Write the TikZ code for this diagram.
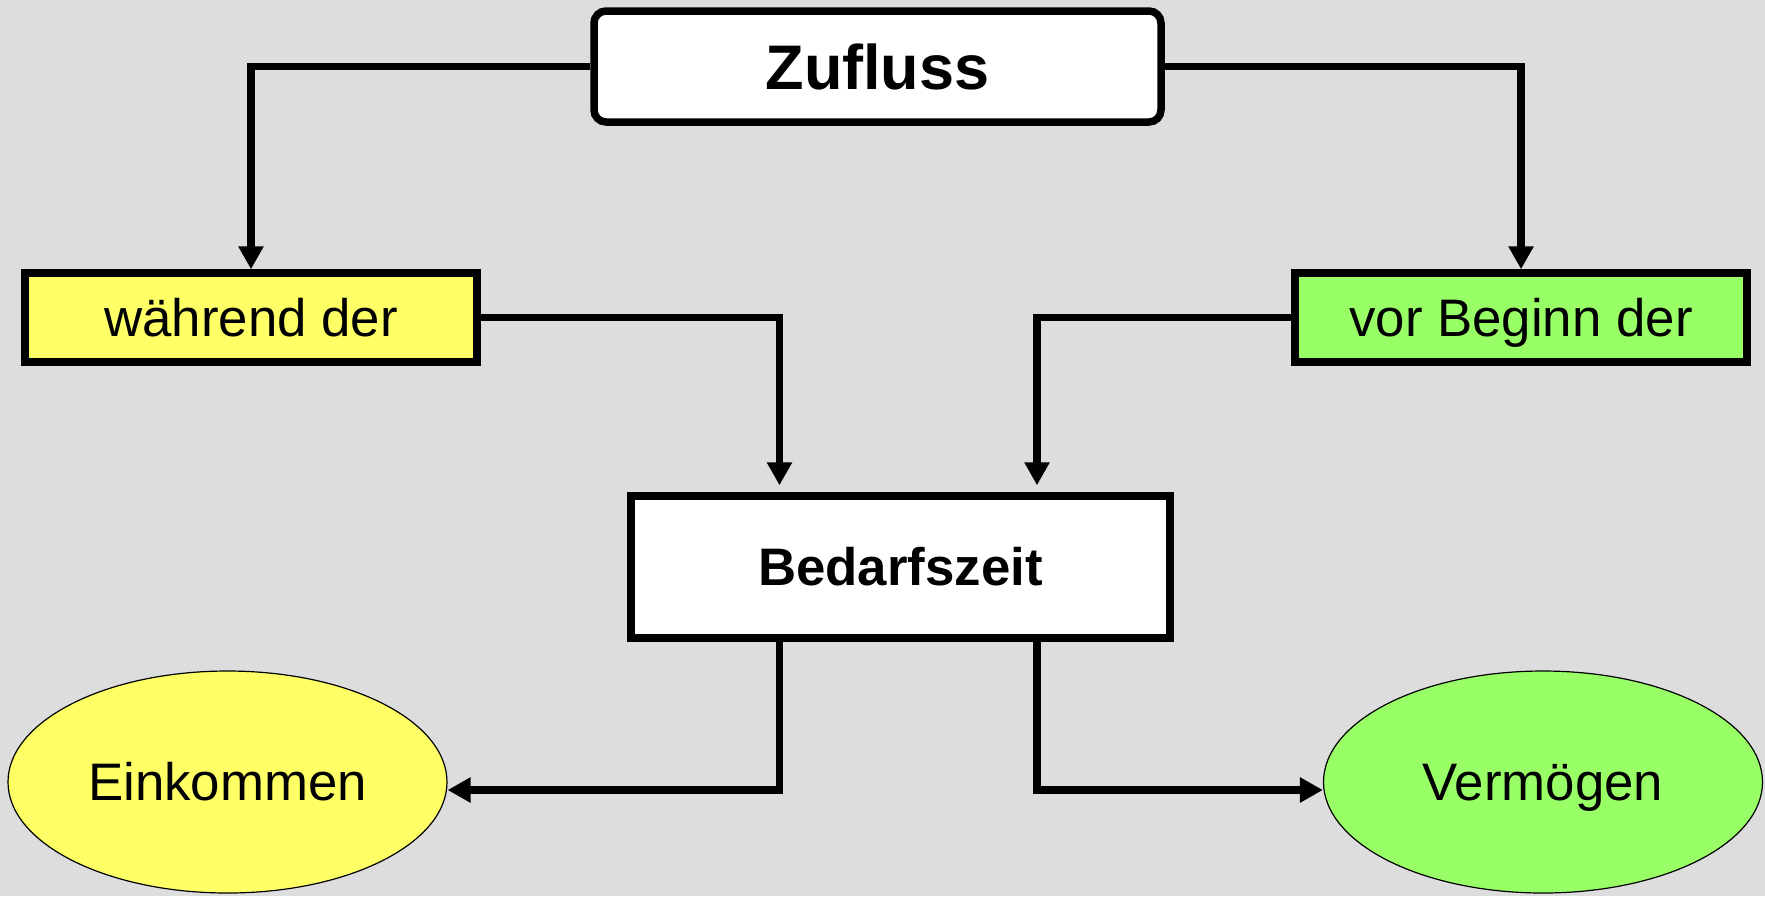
\documentclass[tikz,border=0pt]{standalone}
\usepackage{fontspec}
\setmainfont{Liberation Sans}
\usetikzlibrary{arrows.meta,shapes.geometric}
\definecolor{bggray}{HTML}{DDDDDD}
\definecolor{boxyellow}{HTML}{FFFF66}
\definecolor{boxgreen}{HTML}{99FF66}
\tikzset{
  txt/.style={text height=18.9pt, text depth=0pt},
  boxbase/.style={draw=black, line width=3.75pt, inner sep=0pt, align=center,
    font=\fontsize{26.4}{30}\selectfont, txt},
  topbox/.style={boxbase, fill=white, rounded corners=6pt, minimum width=283.5pt, minimum height=55.5pt,
    font=\fontsize{31.5}{36}\selectfont\bfseries, text height=22.5pt},
  midbox/.style={boxbase, minimum width=226pt, minimum height=44.5pt},
  centerbox/.style={boxbase, fill=white, minimum width=269.5pt, minimum height=71pt,
    font=\fontsize{26.4}{30}\selectfont\bfseries},
  oval/.style={ellipse, draw=black, line width=0.6pt, inner sep=0pt,
    minimum width=219.5pt, minimum height=111pt, font=\fontsize{26.4}{30}\selectfont, txt},
  conn/.style={draw=black, line width=3.75pt, -{Triangle[length=11.5pt,width=12pt]}}
}
\begin{document}
\begin{tikzpicture}[x=0.5pt,y=-0.5pt]
\fill[bggray] (0,0) rectangle (1765,896);
\useasboundingbox (0,0) rectangle (1765,896);
\node[topbox] (zu) at (877.5,66.5) {Zufluss};
\node[midbox, fill=boxyellow] (wd) at (251,317.5) {während der};
\node[midbox, fill=boxgreen] (vb) at (1521,317.5) {vor Beginn der};
\node[centerbox] (bz) at (900.5,567) {Bedarfszeit};
\node[oval, fill=boxyellow] (ek) at (227.5,782) {Einkommen};
\node[oval, fill=boxgreen] (vm) at (1543,782) {Vermögen};
\draw[conn] (zu.west) -| (wd.north);
\draw[conn] (zu.east) -| (vb.north);
\draw[conn, shorten >=3.5pt] (wd.east) -| ([xshift=-60.5pt]bz.north);
\draw[conn, shorten >=3.5pt] (vb.west) -| ([xshift=68.25pt]bz.north);
\draw[conn] ([xshift=-60.5pt]bz.south) |- ([yshift=-4pt]ek.east);
\draw[conn] ([xshift=68.25pt]bz.south) |- ([yshift=-4pt]vm.west);
\end{tikzpicture}
\end{document}
